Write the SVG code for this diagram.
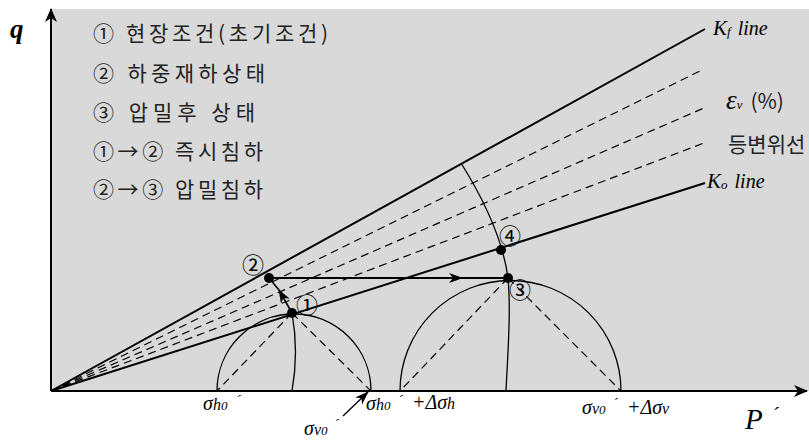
<svg xmlns="http://www.w3.org/2000/svg" width="809" height="441" viewBox="0 0 809 441">
<style>
.leg{font-family:"Noto Sans CJK KR","Noto Sans",sans-serif;font-size:21px;fill:#222}
.ser{font-family:"Liberation Serif","DejaVu Serif",serif;font-style:italic;fill:#000}
.num{font-family:"Noto Sans CJK KR","Noto Sans",sans-serif;font-size:22px;fill:#000}
.solid{stroke:#000;stroke-width:2;fill:none}
.dash{stroke:#000;stroke-width:1.2;stroke-dasharray:8 5;fill:none}
.thin{stroke:#000;stroke-width:1.3;fill:none}
</style>
<defs>
<marker id="ah" viewBox="0 0 14 10" refX="13" refY="5" markerWidth="14" markerHeight="10" markerUnits="userSpaceOnUse" orient="auto">
<path d="M0,0 L14,5 L0,10 L4,5 z" fill="#000"/>
</marker>
<marker id="ax" viewBox="0 0 14 12" refX="13" refY="6" markerWidth="14" markerHeight="12" markerUnits="userSpaceOnUse" orient="auto">
<path d="M0,0 L14,6 L0,12 L4,6 z" fill="#000"/>
</marker>
</defs>
<rect x="51" y="9" width="758" height="382" fill="#d9d9d9"/>
<g id="axes">
<line x1="51" y1="391" x2="51" y2="9" stroke="#000" stroke-width="2" marker-end="url(#ax)"/>
<line x1="51" y1="391" x2="807" y2="391" stroke="#000" stroke-width="2" marker-end="url(#ax)"/>
<text class="ser" x="10" y="38" font-size="27" font-weight="bold">q</text>
<text class="ser" x="745" y="429" font-size="29">P</text>
<text class="ser" x="772" y="422" font-size="20">´</text>
</g>
<g id="legend">
<text class="leg" x="93" y="41" textLength="235" lengthAdjust="spacing">① 현장조건(초기조건)</text>
<text class="leg" x="93" y="81" textLength="172" lengthAdjust="spacing">② 하중재하상태</text>
<text class="leg" x="93" y="120" textLength="162" lengthAdjust="spacing">③ 압밀후 상태</text>
<text class="leg" x="93" y="159" textLength="170" lengthAdjust="spacing">①→② 즉시침하</text>
<text class="leg" x="93" y="197" textLength="170" lengthAdjust="spacing">②→③ 압밀침하</text>
</g>
<g id="connectors">
<line class="solid" x1="51" y1="391" x2="705" y2="29"/>
<line class="solid" x1="51" y1="391" x2="705" y2="183"/>
<line class="dash" x1="51" y1="391" x2="702" y2="70"/>
<line class="dash" x1="51" y1="391" x2="704" y2="108"/>
<line class="dash" x1="51" y1="391" x2="704" y2="143"/>
<path class="thin" d="M217,391 A77,77 0 0 1 371,391"/>
<path class="thin" d="M400,391 A110.5,110.5 0 0 1 621,391"/>
<line class="dash" x1="292" y1="313" x2="217" y2="391"/>
<line class="dash" x1="292" y1="313" x2="371" y2="391"/>
<line class="dash" x1="508" y1="278" x2="400" y2="391"/>
<line class="dash" x1="508" y1="278" x2="621" y2="391"/>
<path class="thin" d="M292,313 Q299,352 292,391"/>
<path class="thin" d="M461,163 C486,203 503,240 508,278 C511,310 508,350 506,391"/>
<path d="M269,278 L462,278" stroke="#000" stroke-width="1.8" fill="none" marker-end="url(#ah)"/>
<line x1="462" y1="278" x2="508" y2="278" stroke="#000" stroke-width="1.8"/>
<path d="M292,313 L279,290" stroke="#000" stroke-width="1.6" fill="none" marker-end="url(#ah)"/>
<line x1="279" y1="290" x2="269" y2="278" stroke="#000" stroke-width="1.6"/>
<line x1="343" y1="416" x2="368" y2="392" stroke="#000" stroke-width="1.3" marker-end="url(#ah)"/>
</g>
<g id="p1"><circle cx="292" cy="313" r="5"/><text class="num" x="307" y="313" text-anchor="middle">①</text></g>
<g id="p2"><circle cx="269" cy="278" r="5"/><text class="num" x="253" y="273" text-anchor="middle">②</text></g>
<g id="p3"><circle cx="508" cy="278" r="5"/><text class="num" x="520" y="298" text-anchor="middle">③</text></g>
<g id="p4"><circle cx="501" cy="250" r="5"/><text class="num" x="510" y="244" text-anchor="middle">④</text></g>
<g id="line-labels">
<text class="ser" x="713" y="35" font-size="21">K<tspan font-size="13" dy="1">f</tspan><tspan dx="7" dy="-1" font-size="20">line</tspan></text>
<text class="ser" x="707" y="188" font-size="21">K<tspan font-size="13" dy="1">o</tspan><tspan dx="7" dy="-1" font-size="20">line</tspan></text>
<text class="ser" x="726" y="109" font-size="27">ε<tspan font-size="13" dy="0">v</tspan><tspan dx="8" class="leg" style="font-style:normal" font-size="20">(%)</tspan></text>
<text class="leg" x="728" y="152" font-size="21">등변위선</text>
</g>
<g id="axis-labels">
<text class="ser" x="203" y="410" font-size="20">σ<tspan font-size="16">h</tspan><tspan font-size="13">0</tspan></text>
<text class="ser" x="236" y="405" font-size="15">´</text>
<text class="ser" x="304" y="435" font-size="20">σ<tspan font-size="16">v</tspan><tspan font-size="13">0</tspan></text>
<text class="ser" x="334" y="429" font-size="15">´</text>
<text class="ser" x="366" y="410" font-size="20">σ<tspan font-size="16">h</tspan><tspan font-size="13">0</tspan></text>
<text class="ser" x="398" y="405" font-size="15">´</text>
<text class="ser" x="412" y="409" font-size="20">+Δσ<tspan font-size="16">h</tspan></text>
<text class="ser" x="582" y="414" font-size="20">σ<tspan font-size="16">v</tspan><tspan font-size="13">0</tspan></text>
<text class="ser" x="613" y="408" font-size="15">´</text>
<text class="ser" x="627" y="414" font-size="20">+Δσ<tspan font-size="16">v</tspan></text>
</g>
</svg>
